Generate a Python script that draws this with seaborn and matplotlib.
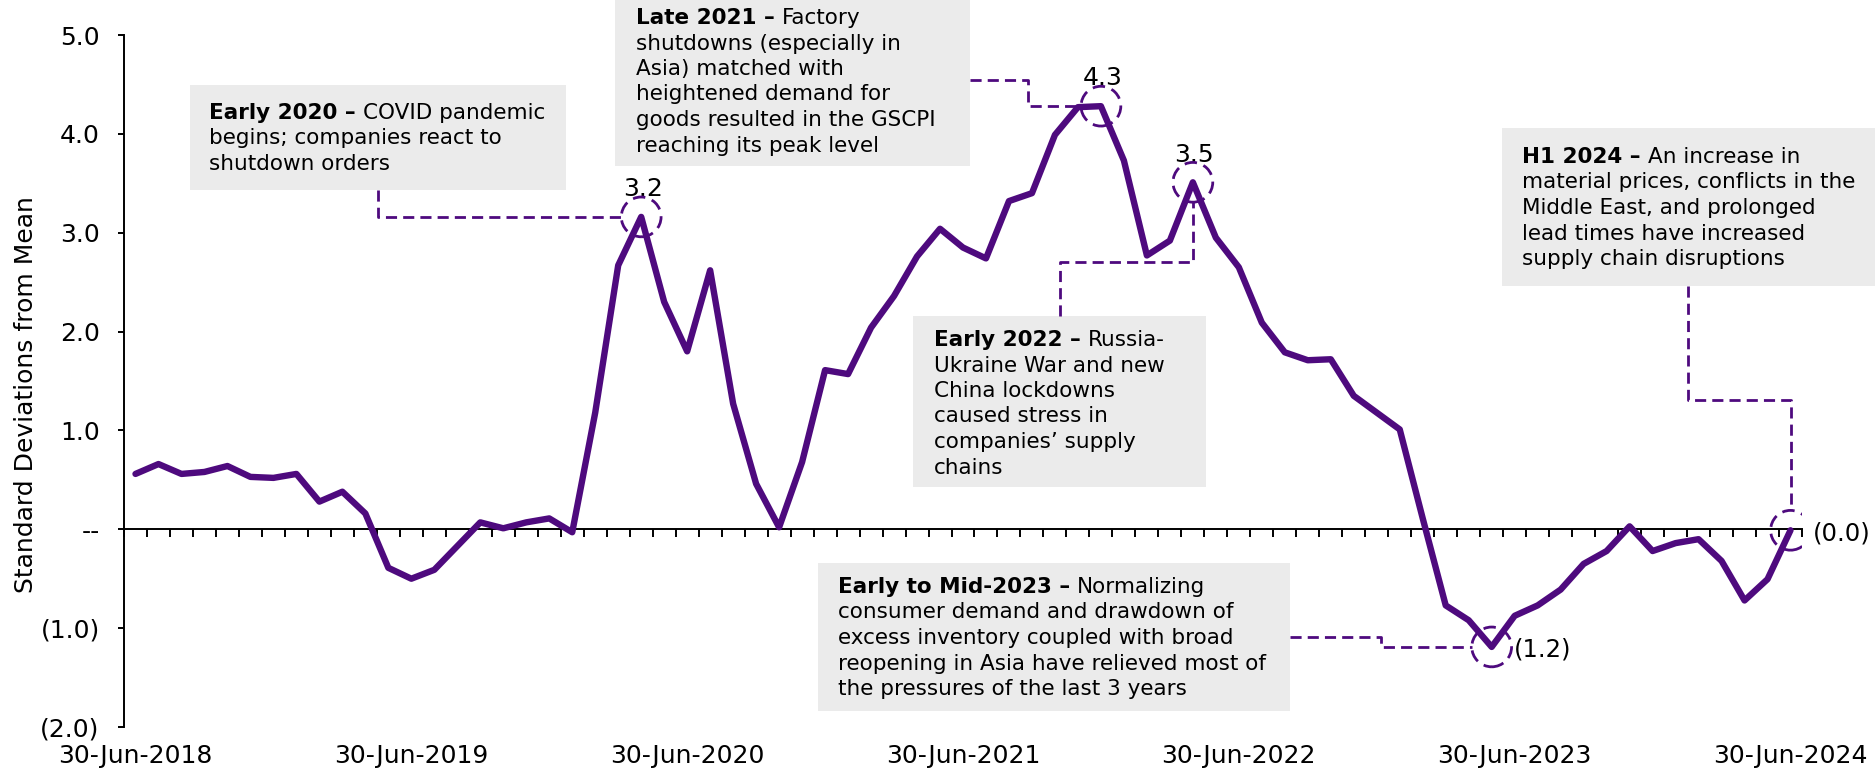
import numpy as np
import pandas as pd
import seaborn as sns
import matplotlib.pyplot as plt
from matplotlib.patches import Rectangle
from matplotlib.transforms import Affine2D
from matplotlib.ticker import FuncFormatter


# GSCPI, monthly, Jun-2018 .. Jun-2024
months = pd.date_range("2018-06-30", periods=73, freq="ME")
gscpi = [0.56, 0.66, 0.56, 0.58, 0.64, 0.53, 0.52, 0.56, 0.28, 0.38, 0.16, -0.39,
         -0.50, -0.41, -0.17, 0.07, 0.01, 0.07, 0.11, -0.03, 1.18, 2.67, 3.16, 2.30,
         1.80, 2.62, 1.27, 0.46, 0.02, 0.68, 1.61, 1.57, 2.04, 2.36, 2.76, 3.04,
         2.85, 2.74, 3.32, 3.40, 3.99, 4.27, 4.28, 3.73, 2.77, 2.92, 3.51, 2.95,
         2.65, 2.09, 1.79, 1.71, 1.72, 1.35, 1.18, 1.01, 0.11, -0.77, -0.92, -1.19,
         -0.875, -0.77, -0.61, -0.35, -0.22, 0.03, -0.22, -0.14, -0.10, -0.32, -0.72, -0.505,
         -0.01]
label_above = [22, 42, 46]
label_right = [59, 72]
yticks = [-2, -1, 0, 1, 2, 3, 4, 5]

note_heads = ["Early 2020 –", "Late 2021 –", "Early 2022 –", "Early to Mid-2023 –", "H1 2024 –"]
note_lines = [
    ["COVID pandemic", "begins; companies react to", "shutdown orders"],
    ["Factory", "shutdowns (especially in", "Asia) matched with", "heightened demand for",
     "goods resulted in the GSCPI", "reaching its peak level"],
    ["Russia-", "Ukraine War and new", "China lockdowns", "caused stress in",
     "companies’ supply", "chains"],
    ["Normalizing", "consumer demand and drawdown of", "excess inventory coupled with broad",
     "reopening in Asia have relieved most of", "the pressures of the last 3 years"],
    ["An increase in", "material prices, conflicts in the", "Middle East, and prolonged",
     "lead times have increased", "supply chain disruptions"],
]

sns.set_theme(style="white")
plt.rcParams["font.family"] = ["DejaVu Sans"]

W, H = 1875, 778
PURPLE = "#4e0a7e"
BOX = "#ebebeb"
PX = Affine2D().scale(1, -1).translate(0, H)   # pixel coords, origin top-left

fig = plt.figure(figsize=(W / 100, H / 100), dpi=100)
ax = fig.add_axes([124 / W, 51 / H, 1678 / W, 692 / H])

df = pd.DataFrame({"i": np.arange(len(gscpi)), "month": months, "v": gscpi})
sns.lineplot(data=df, x="i", y="v", color=PURPLE, lw=4.6, ax=ax, zorder=3)
ax.set_xlim(-0.5, len(gscpi) - 0.5)
ax.set_ylim(-2, 5)
ax.set_xlabel("")

# axes styling
for s in ["top", "right"]:
    ax.spines[s].set_visible(False)
for s in ["left", "bottom"]:
    ax.spines[s].set_color("black")
    ax.spines[s].set_linewidth(1.4)
ax.spines["bottom"].set_position(("data", 0))

ax.set_xticks(np.arange(-0.5, len(gscpi)))
ax.tick_params(axis="x", which="major", direction="out", length=6, width=1.4,
               color="black", bottom=True, labelbottom=False)


def yfmt(v, pos):
    if abs(v) < 1e-9:
        return "--"
    return f"({abs(v):.1f})" if v < 0 else f"{v:.1f}"


ax.set_yticks(yticks)
ax.yaxis.set_major_formatter(FuncFormatter(yfmt))
ax.tick_params(axis="y", direction="out", length=4.5, width=1.4, color="black",
               left=True, pad=13, labelsize=18, labelcolor="black")
ax.set_ylabel("Standard Deviations from Mean", fontsize=18, color="black")
ax.yaxis.set_label_coords(-0.051, 0.48)

sec = ax.secondary_xaxis("bottom")
sec.set_xticks(df["i"][::12], labels=[d.strftime("%d-%b-%Y") for d in df["month"][::12]])
sec.tick_params(length=0, pad=12, labelsize=18, labelcolor="black")
sec.spines["bottom"].set_visible(False)

# highlighted points
hl = df.loc[label_above + label_right]
ax.scatter(hl["i"], hl["v"], s=820, facecolors="none", edgecolors=PURPLE,
           linewidths=2, linestyles=(0, (4.5, 2.5)), zorder=4)


def vfmt(v):
    return f"({abs(v):.1f})" if v < 0 else f"{v:.1f}"


for i in label_above:
    ax.annotate(vfmt(gscpi[i]), (i, gscpi[i]), xytext=(1, 20), textcoords="offset points",
                ha="center", va="center", fontsize=18, color="black")
for i in label_right:
    ax.annotate(vfmt(gscpi[i]), (i, gscpi[i]), xytext=(16, -2), textcoords="offset points",
                ha="left", va="center", fontsize=17.5, color="black")

# note boxes: (x0, y0, x1, y1, text_x, first baseline) in pixels
boxes = [(190, 85, 566, 190, 209, 119),
         (615, 0, 970, 166, 636, 24),
         (913, 316, 1206, 487, 934, 346),
         (818, 563, 1290, 711, 838, 593),
         (1502, 128, 1875, 286, 1522, 163)]
renderer = fig.canvas.get_renderer()
FS = 15.5
STEP = 25.5
for (x0, y0, x1, y1, tx, by), head, lines in zip(boxes, note_heads, note_lines):
    ax.add_patch(Rectangle((x0, y0), x1 - x0, y1 - y0, transform=PX, facecolor=BOX,
                           edgecolor="none", clip_on=False, zorder=1))
    t = ax.text(tx, by, head, transform=PX, fontsize=FS, fontweight="bold",
                va="baseline", color="black", clip_on=False, zorder=2)
    w = t.get_window_extent(renderer=renderer).width
    ax.text(tx + w + 7, by, lines[0], transform=PX, fontsize=FS, va="baseline",
            color="black", clip_on=False, zorder=2)
    for k, line in enumerate(lines[1:], start=1):
        ax.text(tx, by + k * STEP, line, transform=PX, fontsize=FS, va="baseline",
                color="black", clip_on=False, zorder=2)


# dashed connectors from boxes to circled points
def point_px(i):
    x, y = ax.transData.transform((i, gscpi[i]))
    return x, H - y


def link(pts):
    xs, ys = zip(*pts)
    ax.plot(xs, ys, transform=PX, color=PURPLE, lw=2, ls=(0, (4, 2.2)),
            clip_on=False, zorder=2)


R = 20
px, py = point_px(22)
link([(378, 190), (378, py), (px - R, py)])
px, py = point_px(42)
link([(970, 80), (1028, 80), (1028, py), (px - R, py)])
px, py = point_px(46)
link([(1060, 316), (1060, 262), (px, 262), (px, py + R)])
px, py = point_px(59)
link([(1290, 637), (1381, 637), (1381, py), (px - R, py)])
px, py = point_px(72)
link([(1688, 286), (1688, 400), (px, 400), (px, py - R)])

ax.set_xlim(-0.5, len(gscpi) - 0.5)
ax.set_ylim(-2, 5)

fig.savefig("out.png", dpi=100)
